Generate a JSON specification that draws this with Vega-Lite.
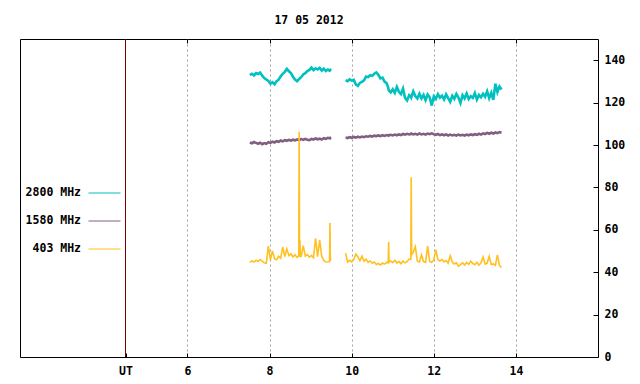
{
  "$schema": "https://vega.github.io/schema/vega-lite/v6.json",
  "width": 578,
  "height": 318,
  "autosize": {"type": "none"},
  "padding": {"left": 20, "top": 39, "right": 42, "bottom": 27},
  "background": "white",
  "title": {"text": "17 05 2012", "font": "DejaVu Sans Mono", "fontSize": 11.5, "fontWeight": "bold", "color": "#000", "anchor": "middle", "offset": 3, "baseline": "alphabetic"},
  "config": {
    "view": {"stroke": "#000", "strokeWidth": 1},
    "axis": {"labelFont": "DejaVu Sans Mono", "labelFontSize": 11.5, "labelFontWeight": "bold", "labelColor": "#000", "tickColor": "#000", "domain": false, "title": null},
    "legend": {"symbolStrokeWidth": 1}
  },
  "datasets": {
    "ut": [{"ut": 4.49}],
    "flux": [
      {"t":7.52,"p":1,"2800 MHz":133.0,"1580 MHz":101.2,"403 MHz":44.6},
      {"t":7.57,"p":1,"2800 MHz":133.6,"1580 MHz":100.8,"403 MHz":45.3},
      {"t":7.62,"p":1,"2800 MHz":132.8,"1580 MHz":101.4,"403 MHz":44.8},
      {"t":7.67,"p":1,"2800 MHz":133.9,"1580 MHz":101.0,"403 MHz":45.6},
      {"t":7.72,"p":1,"2800 MHz":133.5,"1580 MHz":100.6,"403 MHz":45.0},
      {"t":7.77,"p":1,"2800 MHz":134.2,"1580 MHz":101.1,"403 MHz":46.0},
      {"t":7.82,"p":1,"2800 MHz":132.7,"1580 MHz":100.4,"403 MHz":45.2},
      {"t":7.87,"p":1,"2800 MHz":131.6,"1580 MHz":100.9,"403 MHz":44.5},
      {"t":7.92,"p":1,"2800 MHz":130.9,"1580 MHz":100.6,"403 MHz":44.2},
      {"t":7.97,"p":1,"2800 MHz":130.2,"1580 MHz":101.3,"403 MHz":52.3},
      {"t":8.02,"p":1,"2800 MHz":128.9,"1580 MHz":101.0,"403 MHz":45.8},
      {"t":8.07,"p":1,"2800 MHz":129.6,"1580 MHz":101.6,"403 MHz":50.0},
      {"t":8.12,"p":1,"2800 MHz":128.7,"1580 MHz":101.2,"403 MHz":46.4},
      {"t":8.17,"p":1,"2800 MHz":130.1,"1580 MHz":101.8,"403 MHz":45.9},
      {"t":8.22,"p":1,"2800 MHz":130.8,"1580 MHz":101.5,"403 MHz":47.5},
      {"t":8.27,"p":1,"2800 MHz":132.4,"1580 MHz":102.1,"403 MHz":46.6},
      {"t":8.32,"p":1,"2800 MHz":133.6,"1580 MHz":101.7,"403 MHz":51.8},
      {"t":8.37,"p":1,"2800 MHz":134.5,"1580 MHz":102.3,"403 MHz":47.4},
      {"t":8.42,"p":1,"2800 MHz":135.9,"1580 MHz":102.0,"403 MHz":51.0},
      {"t":8.47,"p":1,"2800 MHz":134.8,"1580 MHz":102.4,"403 MHz":47.8},
      {"t":8.52,"p":1,"2800 MHz":133.9,"1580 MHz":102.1,"403 MHz":48.6},
      {"t":8.57,"p":1,"2800 MHz":132.2,"1580 MHz":102.5,"403 MHz":47.2},
      {"t":8.62,"p":1,"2800 MHz":130.9,"1580 MHz":102.2,"403 MHz":48.2},
      {"t":8.67,"p":1,"2800 MHz":130.1,"1580 MHz":102.6,"403 MHz":47.0},
      {"t":8.71,"p":1,"2800 MHz":131.0,"1580 MHz":102.4,"403 MHz":47.6},
      {"t":8.72,"p":1,"2800 MHz":131.2,"1580 MHz":102.3,"403 MHz":106.2},
      {"t":8.73,"p":1,"2800 MHz":131.3,"1580 MHz":102.6,"403 MHz":47.8},
      {"t":8.74,"p":1,"2800 MHz":131.5,"1580 MHz":102.5,"403 MHz":55.2},
      {"t":8.75,"p":1,"2800 MHz":131.7,"1580 MHz":102.7,"403 MHz":47.4},
      {"t":8.77,"p":1,"2800 MHz":132.0,"1580 MHz":102.8,"403 MHz":47.5},
      {"t":8.82,"p":1,"2800 MHz":133.3,"1580 MHz":102.4,"403 MHz":52.5},
      {"t":8.87,"p":1,"2800 MHz":133.9,"1580 MHz":102.9,"403 MHz":47.6},
      {"t":8.92,"p":1,"2800 MHz":134.9,"1580 MHz":102.5,"403 MHz":48.3},
      {"t":8.97,"p":1,"2800 MHz":135.4,"1580 MHz":102.3,"403 MHz":47.1},
      {"t":9.02,"p":1,"2800 MHz":136.5,"1580 MHz":102.9,"403 MHz":47.9},
      {"t":9.07,"p":1,"2800 MHz":135.3,"1580 MHz":102.6,"403 MHz":46.8},
      {"t":9.12,"p":1,"2800 MHz":136.2,"1580 MHz":103.1,"403 MHz":56.0},
      {"t":9.17,"p":1,"2800 MHz":135.6,"1580 MHz":102.7,"403 MHz":47.3},
      {"t":9.22,"p":1,"2800 MHz":136.4,"1580 MHz":103.0,"403 MHz":55.2},
      {"t":9.27,"p":1,"2800 MHz":135.1,"1580 MHz":102.6,"403 MHz":47.6},
      {"t":9.32,"p":1,"2800 MHz":136.0,"1580 MHz":103.2,"403 MHz":45.5},
      {"t":9.37,"p":1,"2800 MHz":134.9,"1580 MHz":102.9,"403 MHz":44.8},
      {"t":9.42,"p":1,"2800 MHz":135.6,"1580 MHz":103.4,"403 MHz":44.9},
      {"t":9.46,"p":1,"2800 MHz":135.0,"1580 MHz":103.2,"403 MHz":45.0},
      {"t":9.47,"p":1,"2800 MHz":135.2,"1580 MHz":103.1,"403 MHz":63.2},
      {"t":9.48,"p":1,"2800 MHz":135.5,"1580 MHz":103.4,"403 MHz":45.8},
      {"t":9.50,"p":1,"2800 MHz":135.8,"1580 MHz":103.6,"403 MHz":46.5},
      {"t":9.85,"p":2,"2800 MHz":130.6,"1580 MHz":103.6,"403 MHz":49.0},
      {"t":9.90,"p":2,"2800 MHz":130.1,"1580 MHz":103.3,"403 MHz":44.8},
      {"t":9.95,"p":2,"2800 MHz":131.0,"1580 MHz":103.7,"403 MHz":45.6},
      {"t":10.00,"p":2,"2800 MHz":130.4,"1580 MHz":103.4,"403 MHz":44.9},
      {"t":10.05,"p":2,"2800 MHz":130.7,"1580 MHz":103.8,"403 MHz":46.0},
      {"t":10.10,"p":2,"2800 MHz":128.6,"1580 MHz":103.5,"403 MHz":48.5},
      {"t":10.15,"p":2,"2800 MHz":127.9,"1580 MHz":103.9,"403 MHz":47.3},
      {"t":10.20,"p":2,"2800 MHz":129.3,"1580 MHz":103.6,"403 MHz":45.4},
      {"t":10.25,"p":2,"2800 MHz":129.8,"1580 MHz":104.0,"403 MHz":47.6},
      {"t":10.30,"p":2,"2800 MHz":130.5,"1580 MHz":103.7,"403 MHz":45.2},
      {"t":10.35,"p":2,"2800 MHz":132.3,"1580 MHz":104.1,"403 MHz":46.1},
      {"t":10.40,"p":2,"2800 MHz":132.0,"1580 MHz":103.9,"403 MHz":44.6},
      {"t":10.45,"p":2,"2800 MHz":132.9,"1580 MHz":104.3,"403 MHz":45.3},
      {"t":10.50,"p":2,"2800 MHz":132.6,"1580 MHz":104.0,"403 MHz":44.2},
      {"t":10.55,"p":2,"2800 MHz":133.6,"1580 MHz":104.4,"403 MHz":44.8},
      {"t":10.60,"p":2,"2800 MHz":134.2,"1580 MHz":104.2,"403 MHz":43.6},
      {"t":10.65,"p":2,"2800 MHz":133.1,"1580 MHz":104.5,"403 MHz":44.1},
      {"t":10.70,"p":2,"2800 MHz":131.4,"1580 MHz":104.2,"403 MHz":43.4},
      {"t":10.75,"p":2,"2800 MHz":131.8,"1580 MHz":104.6,"403 MHz":44.3},
      {"t":10.80,"p":2,"2800 MHz":129.9,"1580 MHz":104.3,"403 MHz":43.8},
      {"t":10.85,"p":2,"2800 MHz":129.2,"1580 MHz":104.7,"403 MHz":44.6},
      {"t":10.89,"p":2,"2800 MHz":127.0,"1580 MHz":104.5,"403 MHz":44.4},
      {"t":10.90,"p":2,"2800 MHz":126.0,"1580 MHz":104.4,"403 MHz":54.2},
      {"t":10.91,"p":2,"2800 MHz":125.6,"1580 MHz":104.6,"403 MHz":44.8},
      {"t":10.95,"p":2,"2800 MHz":124.8,"1580 MHz":104.8,"403 MHz":45.3},
      {"t":11.00,"p":2,"2800 MHz":126.3,"1580 MHz":104.5,"403 MHz":44.5},
      {"t":11.05,"p":2,"2800 MHz":124.6,"1580 MHz":104.9,"403 MHz":45.6},
      {"t":11.10,"p":2,"2800 MHz":127.4,"1580 MHz":104.6,"403 MHz":44.3},
      {"t":11.15,"p":2,"2800 MHz":125.1,"1580 MHz":105.0,"403 MHz":45.1},
      {"t":11.20,"p":2,"2800 MHz":124.0,"1580 MHz":104.7,"403 MHz":44.0},
      {"t":11.25,"p":2,"2800 MHz":126.6,"1580 MHz":105.2,"403 MHz":45.2},
      {"t":11.30,"p":2,"2800 MHz":122.2,"1580 MHz":104.9,"403 MHz":44.4},
      {"t":11.35,"p":2,"2800 MHz":121.0,"1580 MHz":105.3,"403 MHz":45.0},
      {"t":11.40,"p":2,"2800 MHz":123.5,"1580 MHz":105.0,"403 MHz":46.2},
      {"t":11.44,"p":2,"2800 MHz":122.8,"1580 MHz":105.2,"403 MHz":46.0},
      {"t":11.45,"p":2,"2800 MHz":122.4,"1580 MHz":105.4,"403 MHz":84.8},
      {"t":11.46,"p":2,"2800 MHz":123.0,"1580 MHz":105.3,"403 MHz":48.0},
      {"t":11.50,"p":2,"2800 MHz":125.3,"1580 MHz":105.0,"403 MHz":49.5},
      {"t":11.55,"p":2,"2800 MHz":123.1,"1580 MHz":105.3,"403 MHz":52.0},
      {"t":11.60,"p":2,"2800 MHz":121.9,"1580 MHz":104.9,"403 MHz":45.2},
      {"t":11.65,"p":2,"2800 MHz":124.2,"1580 MHz":105.4,"403 MHz":44.8},
      {"t":11.70,"p":2,"2800 MHz":122.0,"1580 MHz":105.0,"403 MHz":48.2},
      {"t":11.75,"p":2,"2800 MHz":123.6,"1580 MHz":105.3,"403 MHz":45.0},
      {"t":11.80,"p":2,"2800 MHz":121.2,"1580 MHz":104.9,"403 MHz":44.6},
      {"t":11.85,"p":2,"2800 MHz":123.8,"1580 MHz":105.4,"403 MHz":52.3},
      {"t":11.90,"p":2,"2800 MHz":122.5,"1580 MHz":105.1,"403 MHz":45.1},
      {"t":11.95,"p":2,"2800 MHz":118.6,"1580 MHz":105.5,"403 MHz":44.7},
      {"t":12.00,"p":2,"2800 MHz":122.9,"1580 MHz":105.1,"403 MHz":45.8},
      {"t":12.05,"p":2,"2800 MHz":121.7,"1580 MHz":104.8,"403 MHz":50.5},
      {"t":12.10,"p":2,"2800 MHz":124.0,"1580 MHz":105.2,"403 MHz":45.9},
      {"t":12.15,"p":2,"2800 MHz":122.3,"1580 MHz":104.7,"403 MHz":45.3},
      {"t":12.20,"p":2,"2800 MHz":123.3,"1580 MHz":105.0,"403 MHz":46.0},
      {"t":12.25,"p":2,"2800 MHz":121.5,"1580 MHz":104.6,"403 MHz":44.9},
      {"t":12.30,"p":2,"2800 MHz":123.9,"1580 MHz":105.0,"403 MHz":45.4},
      {"t":12.35,"p":2,"2800 MHz":122.1,"1580 MHz":104.5,"403 MHz":44.3},
      {"t":12.40,"p":2,"2800 MHz":120.4,"1580 MHz":104.9,"403 MHz":47.8},
      {"t":12.45,"p":2,"2800 MHz":123.2,"1580 MHz":104.5,"403 MHz":44.8},
      {"t":12.50,"p":2,"2800 MHz":121.8,"1580 MHz":104.8,"403 MHz":43.9},
      {"t":12.55,"p":2,"2800 MHz":124.1,"1580 MHz":104.4,"403 MHz":44.4},
      {"t":12.60,"p":2,"2800 MHz":122.4,"1580 MHz":104.9,"403 MHz":42.8},
      {"t":12.65,"p":2,"2800 MHz":119.8,"1580 MHz":104.5,"403 MHz":43.6},
      {"t":12.70,"p":2,"2800 MHz":123.5,"1580 MHz":104.8,"403 MHz":44.5},
      {"t":12.75,"p":2,"2800 MHz":122.0,"1580 MHz":104.4,"403 MHz":43.4},
      {"t":12.80,"p":2,"2800 MHz":124.3,"1580 MHz":104.9,"403 MHz":44.6},
      {"t":12.85,"p":2,"2800 MHz":121.7,"1580 MHz":104.6,"403 MHz":43.7},
      {"t":12.90,"p":2,"2800 MHz":123.0,"1580 MHz":105.0,"403 MHz":45.2},
      {"t":12.95,"p":2,"2800 MHz":122.2,"1580 MHz":104.7,"403 MHz":44.1},
      {"t":13.00,"p":2,"2800 MHz":124.5,"1580 MHz":105.1,"403 MHz":43.5},
      {"t":13.05,"p":2,"2800 MHz":121.4,"1580 MHz":104.8,"403 MHz":44.7},
      {"t":13.10,"p":2,"2800 MHz":123.6,"1580 MHz":105.3,"403 MHz":43.3},
      {"t":13.15,"p":2,"2800 MHz":122.5,"1580 MHz":104.9,"403 MHz":44.4},
      {"t":13.20,"p":2,"2800 MHz":124.2,"1580 MHz":105.5,"403 MHz":47.2},
      {"t":13.25,"p":2,"2800 MHz":122.8,"1580 MHz":105.2,"403 MHz":43.8},
      {"t":13.30,"p":2,"2800 MHz":125.3,"1580 MHz":105.7,"403 MHz":44.3},
      {"t":13.35,"p":2,"2800 MHz":122.1,"1580 MHz":105.3,"403 MHz":47.5},
      {"t":13.40,"p":2,"2800 MHz":124.6,"1580 MHz":105.8,"403 MHz":43.6},
      {"t":13.45,"p":2,"2800 MHz":121.3,"1580 MHz":105.4,"403 MHz":43.9},
      {"t":13.50,"p":2,"2800 MHz":128.9,"1580 MHz":105.9,"403 MHz":43.2},
      {"t":13.55,"p":2,"2800 MHz":125.0,"1580 MHz":105.6,"403 MHz":48.2},
      {"t":13.60,"p":2,"2800 MHz":127.6,"1580 MHz":106.1,"403 MHz":43.1},
      {"t":13.65,"p":2,"2800 MHz":126.2,"1580 MHz":105.8,"403 MHz":42.3}
    ]
  },
  "layer": [
    {
      "data": {"name": "ut"},
      "mark": {"type": "rule", "color": "#7a0000", "strokeWidth": 1},
      "encoding": {
        "x": {"field": "ut", "type": "quantitative", "scale": {"domain": [1.92, 16], "nice": false, "zero": false},
              "axis": {"orient": "top", "labels": false, "values": [6, 8, 10, 12, 14], "tickSize": -4, "grid": false}}
      }
    },
    {
      "data": {"name": "flux"},
      "transform": [{"fold": ["2800 MHz", "1580 MHz"], "as": ["band", "sfu"]}],
      "mark": {"type": "line", "strokeWidth": 2.6},
      "encoding": {
        "x": {"field": "t", "type": "quantitative", "scale": {"domain": [1.92, 16], "nice": false, "zero": false},
              "axis": {"orient": "bottom", "values": [4.49, 6, 8, 10, 12, 14], "labelExpr": "datum.value < 5 ? 'UT' : datum.label",
                       "tickSize": -4, "labelPadding": 21.7, "labelBaseline": "alphabetic", "grid": true, "gridDash": [2, 3], "gridColor": "#a0a0a0",
                       "gridOpacity": {"condition": {"test": "datum.value < 5", "value": 0}, "value": 1}}},
        "y": {"field": "sfu", "type": "quantitative", "scale": {"domain": [0, 150], "nice": false},
              "axis": {"orient": "right", "values": [0, 20, 40, 60, 80, 100, 120, 140], "tickSize": -5, "labelPadding": 11, "labelAlign": "left", "labelBaseline": "middle", "grid": false}},
        "color": {"field": "band", "type": "nominal",
                  "scale": {"domain": ["2800 MHz", "1580 MHz", "403 MHz"], "range": ["#00c0c0", "#806080", "#ffc020"]},
                  "legend": {"orient": "none", "legendX": 68, "legendY": 137.5, "title": null, "symbolType": "stroke", "symbolSize": 1024, "symbolStrokeWidth": 1,
                             "labelFont": "DejaVu Sans Mono", "labelFontSize": 11.5, "labelFontWeight": "bold", "labelColor": "#000", "labelAlign": "right", "labelOffset": -40, "rowPadding": 6}},
        "detail": {"field": "p", "type": "nominal"}
      }
    },
    {
      "data": {"name": "flux"},
      "transform": [{"fold": ["403 MHz"], "as": ["band", "sfu"]}],
      "mark": {"type": "line", "strokeWidth": 1.6},
      "encoding": {
        "x": {"field": "t", "type": "quantitative", "axis": null},
        "y": {"field": "sfu", "type": "quantitative"},
        "color": {"field": "band", "type": "nominal"},
        "detail": {"field": "p", "type": "nominal"}
      }
    }
  ],
  "resolve": {"axis": {"x": "independent"}}
}
